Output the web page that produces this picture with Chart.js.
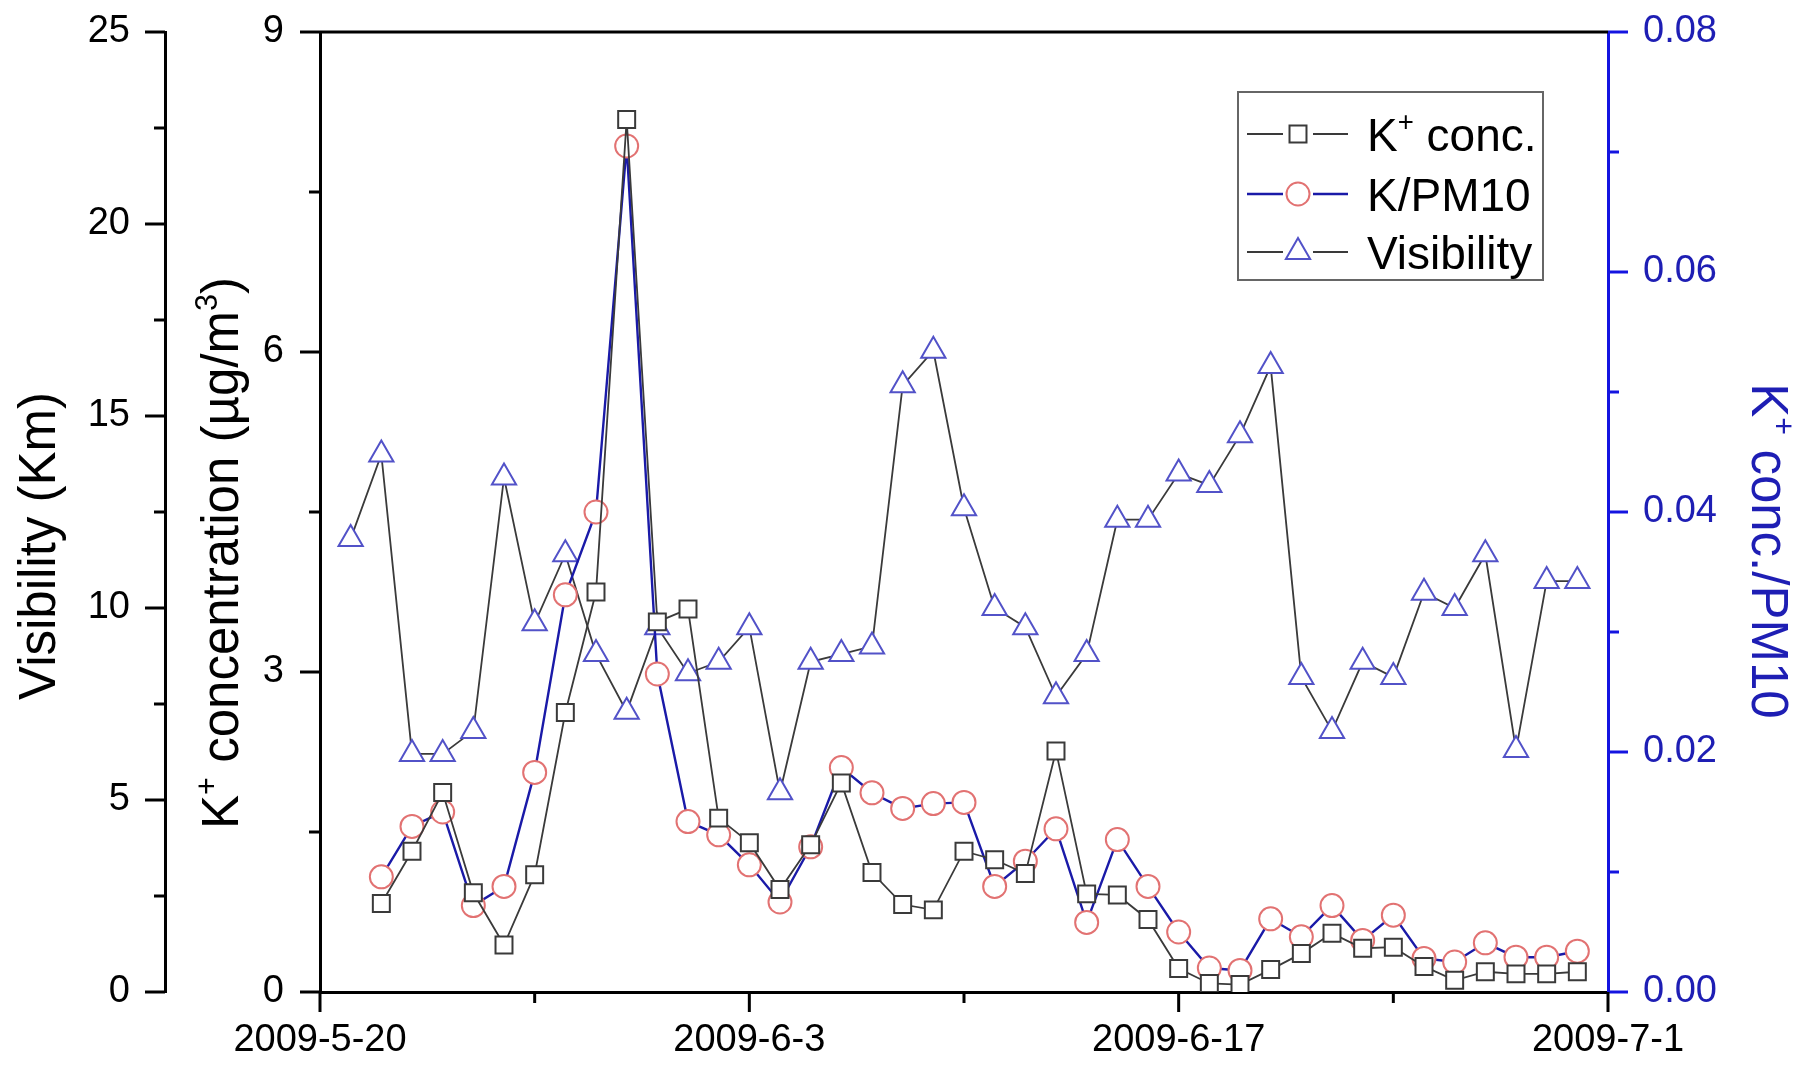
<!DOCTYPE html>
<html lang="en">
<head>
<meta charset="UTF-8">
<title>K+ concentration, K/PM10 and visibility</title>
<script src="https://cdn.jsdelivr.net/npm/chart.js"></script>
<style>
  html, body { margin: 0; padding: 0; background: #fff; overflow: hidden; }
  #wrap { width: 1806px; height: 1067px; position: relative; }
</style>
</head>
<body>
<div id="wrap"><canvas id="chart"></canvas></div>
<script>
// one sample per day
const dates = [
  '2009-5-21', '2009-5-22', '2009-5-23', '2009-5-24', '2009-5-25', '2009-5-26', '2009-5-27',
  '2009-5-28', '2009-5-29', '2009-5-30', '2009-5-31', '2009-6-1', '2009-6-2', '2009-6-3',
  '2009-6-4', '2009-6-5', '2009-6-6', '2009-6-7', '2009-6-8', '2009-6-9', '2009-6-10',
  '2009-6-11', '2009-6-12', '2009-6-13', '2009-6-14', '2009-6-15', '2009-6-16', '2009-6-17',
  '2009-6-18', '2009-6-19', '2009-6-20', '2009-6-21', '2009-6-22', '2009-6-23', '2009-6-24',
  '2009-6-25', '2009-6-26', '2009-6-27', '2009-6-28', '2009-6-29', '2009-6-30'
];

// Visibility (Km)
const visibility = [
  11.8, 14.0, 6.2, 6.2, 6.8, 13.4, 9.6, 11.4, 8.8, 7.3, 9.5, 8.3, 8.6, 9.5,
  5.2, 8.6, 8.8, 9.0, 15.8, 16.7, 12.6, 10.0, 9.5, 7.7, 8.8, 12.3, 12.3, 13.5,
  13.2, 14.5, 16.3, 8.2, 6.8, 8.6, 8.2, 10.4, 10.0, 11.4, 6.3, 10.7, 10.7
];

// K+ concentration (ug/m3), no sample on the first day
const kConc = [
  null, 0.83, 1.32, 1.87, 0.93, 0.44, 1.10, 2.62, 3.75, 8.18, 3.47, 3.59, 1.63, 1.40,
  0.96, 1.38, 1.96, 1.12, 0.82, 0.77, 1.32, 1.24, 1.11, 2.26, 0.92, 0.91, 0.68, 0.22,
  0.08, 0.07, 0.21, 0.36, 0.55, 0.41, 0.42, 0.24, 0.11, 0.19, 0.17, 0.17, 0.19
];

// K+ conc. / PM10
const kPm10 = [
  null, 0.0096, 0.0138, 0.0150, 0.0072, 0.0088, 0.0183, 0.0331, 0.0400, 0.0705, 0.0265, 0.0142, 0.0131, 0.0106,
  0.0075, 0.0121, 0.0187, 0.0166, 0.0153, 0.0157, 0.0158, 0.0088, 0.0109, 0.0136, 0.0058, 0.0127, 0.0088, 0.0050,
  0.0020, 0.0018, 0.0061, 0.0046, 0.0072, 0.0043, 0.0064, 0.0028, 0.0025, 0.0041, 0.0029, 0.0029, 0.0034
];

const xTickLabels = ['2009-5-20', '2009-6-3', '2009-6-17', '2009-7-1'];

const FONT = '"Liberation Sans", Arial, Helvetica, sans-serif';
const BLUE = '#1e1eb4';
const AXIS_BLUE = '#1414e0';

// days since the first x tick
const day0 = Date.UTC(2009, 4, 20);
function dayOf(s) {
  const [y, m, d] = s.split('-').map(Number);
  return (Date.UTC(y, m - 1, d) - day0) / 86400000;
}
const xs = dates.map(dayOf);
const toPoints = arr => arr.map((v, i) => ({ x: xs[i], y: v }));

function xLabel(v) {
  const hit = xTickLabels.find(l => dayOf(l) === v);
  return hit || '';
}

// text with superscripts
function richWidth(ctx, parts, size) {
  let w = 0;
  parts.forEach(p => {
    ctx.font = (p.sup ? size * 0.6 : size) + 'px ' + FONT;
    w += ctx.measureText(p.t).width;
  });
  return w;
}
function drawRich(ctx, parts, x, y, size) {
  parts.forEach(p => {
    const fs = p.sup ? size * 0.6 : size;
    ctx.font = fs + 'px ' + FONT;
    ctx.fillText(p.t, x, p.sup ? y - size * 0.42 : y);
    x += ctx.measureText(p.t).width;
  });
}
function drawRotated(ctx, parts, bx, cy, dir, size, color) {
  ctx.save();
  ctx.translate(bx, cy);
  ctx.rotate(dir * Math.PI / 2);
  ctx.fillStyle = color;
  ctx.textBaseline = 'alphabetic';
  ctx.textAlign = 'left';
  const w = richWidth(ctx, parts, size);
  drawRich(ctx, parts, -w / 2, 0, size);
  ctx.restore();
}

function drawMarker(ctx, style, x, y, r) {
  ctx.beginPath();
  if (style === 'rect') {
    const s = Math.SQRT1_2 * r;
    ctx.rect(x - s, y - s, 2 * s, 2 * s);
  } else if (style === 'circle') {
    ctx.arc(x, y, r, 0, Math.PI * 2);
  } else {
    let a = 0;
    ctx.moveTo(x + Math.sin(a) * r, y - Math.cos(a) * r);
    a += Math.PI * 2 / 3;
    ctx.lineTo(x + Math.sin(a) * r, y - Math.cos(a) * r);
    a += Math.PI * 2 / 3;
    ctx.lineTo(x + Math.sin(a) * r, y - Math.cos(a) * r);
    ctx.closePath();
  }
  ctx.fill();
  ctx.stroke();
}

// outward tick marks (long for labelled ticks, short for the others) and top frame line
const frameAndTicks = {
  id: 'frameAndTicks',
  afterDraw(chart) {
    const ctx = chart.ctx;
    const area = chart.chartArea;
    const s = chart.scales;
    ctx.save();
    ctx.lineWidth = 3;
    ctx.strokeStyle = '#000';
    ctx.beginPath();
    ctx.moveTo(area.left, area.top);
    ctx.lineTo(area.right, area.top);
    ctx.stroke();

    const mark = (scale, color, kind) => {
      ctx.strokeStyle = color;
      scale.ticks.forEach(t => {
        const len = t.label !== '' ? 20 : 11;
        const p = scale.getPixelForValue(t.value);
        ctx.beginPath();
        if (kind === 'left') { ctx.moveTo(scale.right, p); ctx.lineTo(scale.right - len, p); }
        else if (kind === 'right') { ctx.moveTo(scale.left, p); ctx.lineTo(scale.left + len, p); }
        else { ctx.moveTo(p, scale.top); ctx.lineTo(p, scale.top + len); }
        ctx.stroke();
      });
    };
    mark(s.yVis, '#000', 'left');
    mark(s.yK, '#000', 'left');
    mark(s.yR, AXIS_BLUE, 'right');
    mark(s.x, '#000', 'bottom');
    ctx.restore();
  }
};

const axisTitles = {
  id: 'axisTitles',
  afterDraw(chart) {
    const ctx = chart.ctx;
    const s = chart.scales;
    drawRotated(ctx, [{ t: 'Visibility (Km)' }], s.yVis.left + 55, 546, -1, 51, '#000');
    drawRotated(ctx, [{ t: 'K' }, { t: '+', sup: true }, { t: ' concentration (\u00b5g/m' }, { t: '3', sup: true }, { t: ')' }],
      s.yK.left + 73, 553, -1, 51, '#000');
    drawRotated(ctx, [{ t: 'K' }, { t: '+', sup: true }, { t: ' conc./PM10' }], s.yR.left + 144, 551, 1, 51, BLUE);
  }
};

const legendBox = {
  id: 'legendBox',
  afterDraw(chart) {
    const ctx = chart.ctx;
    const area = chart.chartArea;
    const bx = area.right - 370, by = area.top + 60, bw = 305, bh = 188;
    ctx.save();
    ctx.fillStyle = '#fff';
    ctx.fillRect(bx, by, bw, bh);
    ctx.strokeStyle = '#666';
    ctx.lineWidth = 2;
    ctx.strokeRect(bx, by, bw, bh);

    const names = [
      [{ t: 'K' }, { t: '+', sup: true }, { t: ' conc.' }],
      [{ t: 'K/PM10' }],
      [{ t: 'Visibility' }]
    ];
    const rowsY = [by + 42, by + 102, by + 160];
    chart.data.datasets.forEach((ds, i) => {
      const y = rowsY[i];
      const mx = bx + 60;
      ctx.strokeStyle = ds.borderColor;
      ctx.lineWidth = ds.borderWidth;
      ctx.beginPath();
      ctx.moveTo(bx + 9, y); ctx.lineTo(mx - 15, y);
      ctx.moveTo(mx + 15, y); ctx.lineTo(bx + 110, y);
      ctx.stroke();
      ctx.fillStyle = '#fff';
      ctx.strokeStyle = ds.pointBorderColor;
      ctx.lineWidth = ds.pointBorderWidth;
      drawMarker(ctx, ds.pointStyle, mx, y, ds.pointRadius);
      ctx.fillStyle = '#000';
      ctx.textBaseline = 'alphabetic';
      drawRich(ctx, names[i], bx + 129, y + 16.5, 46);
    });
    ctx.restore();
  }
};

const tickFont = { family: FONT, size: 38 };

// fixed box size; drop the label overhang padding so the plot keeps its frame
const fixWidth = w => s => { s.width = w; s.paddingTop = 0; s.paddingBottom = 0; };

new Chart(document.getElementById('chart'), {
  type: 'line',
  data: {
    datasets: [
      {
        label: 'K+ conc.', data: toPoints(kConc), yAxisID: 'yK',
        borderColor: '#3a3a3a', borderWidth: 1.8,
        pointStyle: 'rect', pointRadius: 12, pointBorderColor: '#3a3a3a',
        pointBackgroundColor: '#fff', pointBorderWidth: 2
      },
      {
        label: 'K/PM10', data: toPoints(kPm10), yAxisID: 'yR',
        borderColor: '#1a1aa8', borderWidth: 2.4,
        pointStyle: 'circle', pointRadius: 11.5, pointBorderColor: '#e27272',
        pointBackgroundColor: '#fff', pointBorderWidth: 2
      },
      {
        label: 'Visibility', data: toPoints(visibility), yAxisID: 'yVis',
        borderColor: '#3a3a3a', borderWidth: 1.8,
        pointStyle: 'triangle', pointRadius: 14, pointBorderColor: '#5252c8',
        pointBackgroundColor: '#fff', pointBorderWidth: 2
      }
    ]
  },
  options: {
    responsive: true,
    maintainAspectRatio: false,
    animation: false,
    layout: { padding: { top: 32, left: 0, right: 0, bottom: 0 } },
    plugins: { legend: { display: false }, tooltip: { enabled: false } },
    scales: {
      x: {
        type: 'linear', position: 'bottom', min: 0, max: 42,
        afterFit: s => { s.height = 75; },
        grid: { display: false, drawTicks: false },
        border: { display: true, color: '#000', width: 3 },
        ticks: {
          stepSize: 7, autoSkip: false, maxRotation: 0, minRotation: 0,
          padding: 26, color: '#000', font: tickFont, callback: v => xLabel(v)
        }
      },
      yVis: {
        type: 'linear', position: 'left', weight: 2, min: 0, max: 25,
        afterFit: fixWidth(165),
        grid: { display: false, drawTicks: false },
        border: { display: true, color: '#000', width: 3 },
        ticks: {
          stepSize: 2.5, autoSkip: false, padding: 35, color: '#000', font: tickFont,
          callback: v => (v % 5 === 0 ? String(v) : '')
        }
      },
      yK: {
        type: 'linear', position: 'left', weight: 1, min: 0, max: 9,
        afterFit: fixWidth(155),
        grid: { display: false, drawTicks: false },
        border: { display: true, color: '#000', width: 3 },
        ticks: {
          stepSize: 1.5, autoSkip: false, padding: 36, color: '#000', font: tickFont,
          callback: v => (v % 3 === 0 ? String(v) : '')
        }
      },
      yR: {
        type: 'linear', position: 'right', min: 0, max: 0.08,
        afterFit: fixWidth(198),
        grid: { display: false, drawTicks: false },
        border: { display: true, color: AXIS_BLUE, width: 3 },
        ticks: {
          stepSize: 0.01, autoSkip: false, padding: 35, color: BLUE, font: tickFont,
          callback: v => (Math.round(v * 100) % 2 === 0 ? v.toFixed(2) : '')
        }
      }
    }
  },
  plugins: [frameAndTicks, axisTitles, legendBox]
});
</script>
</body>
</html>
